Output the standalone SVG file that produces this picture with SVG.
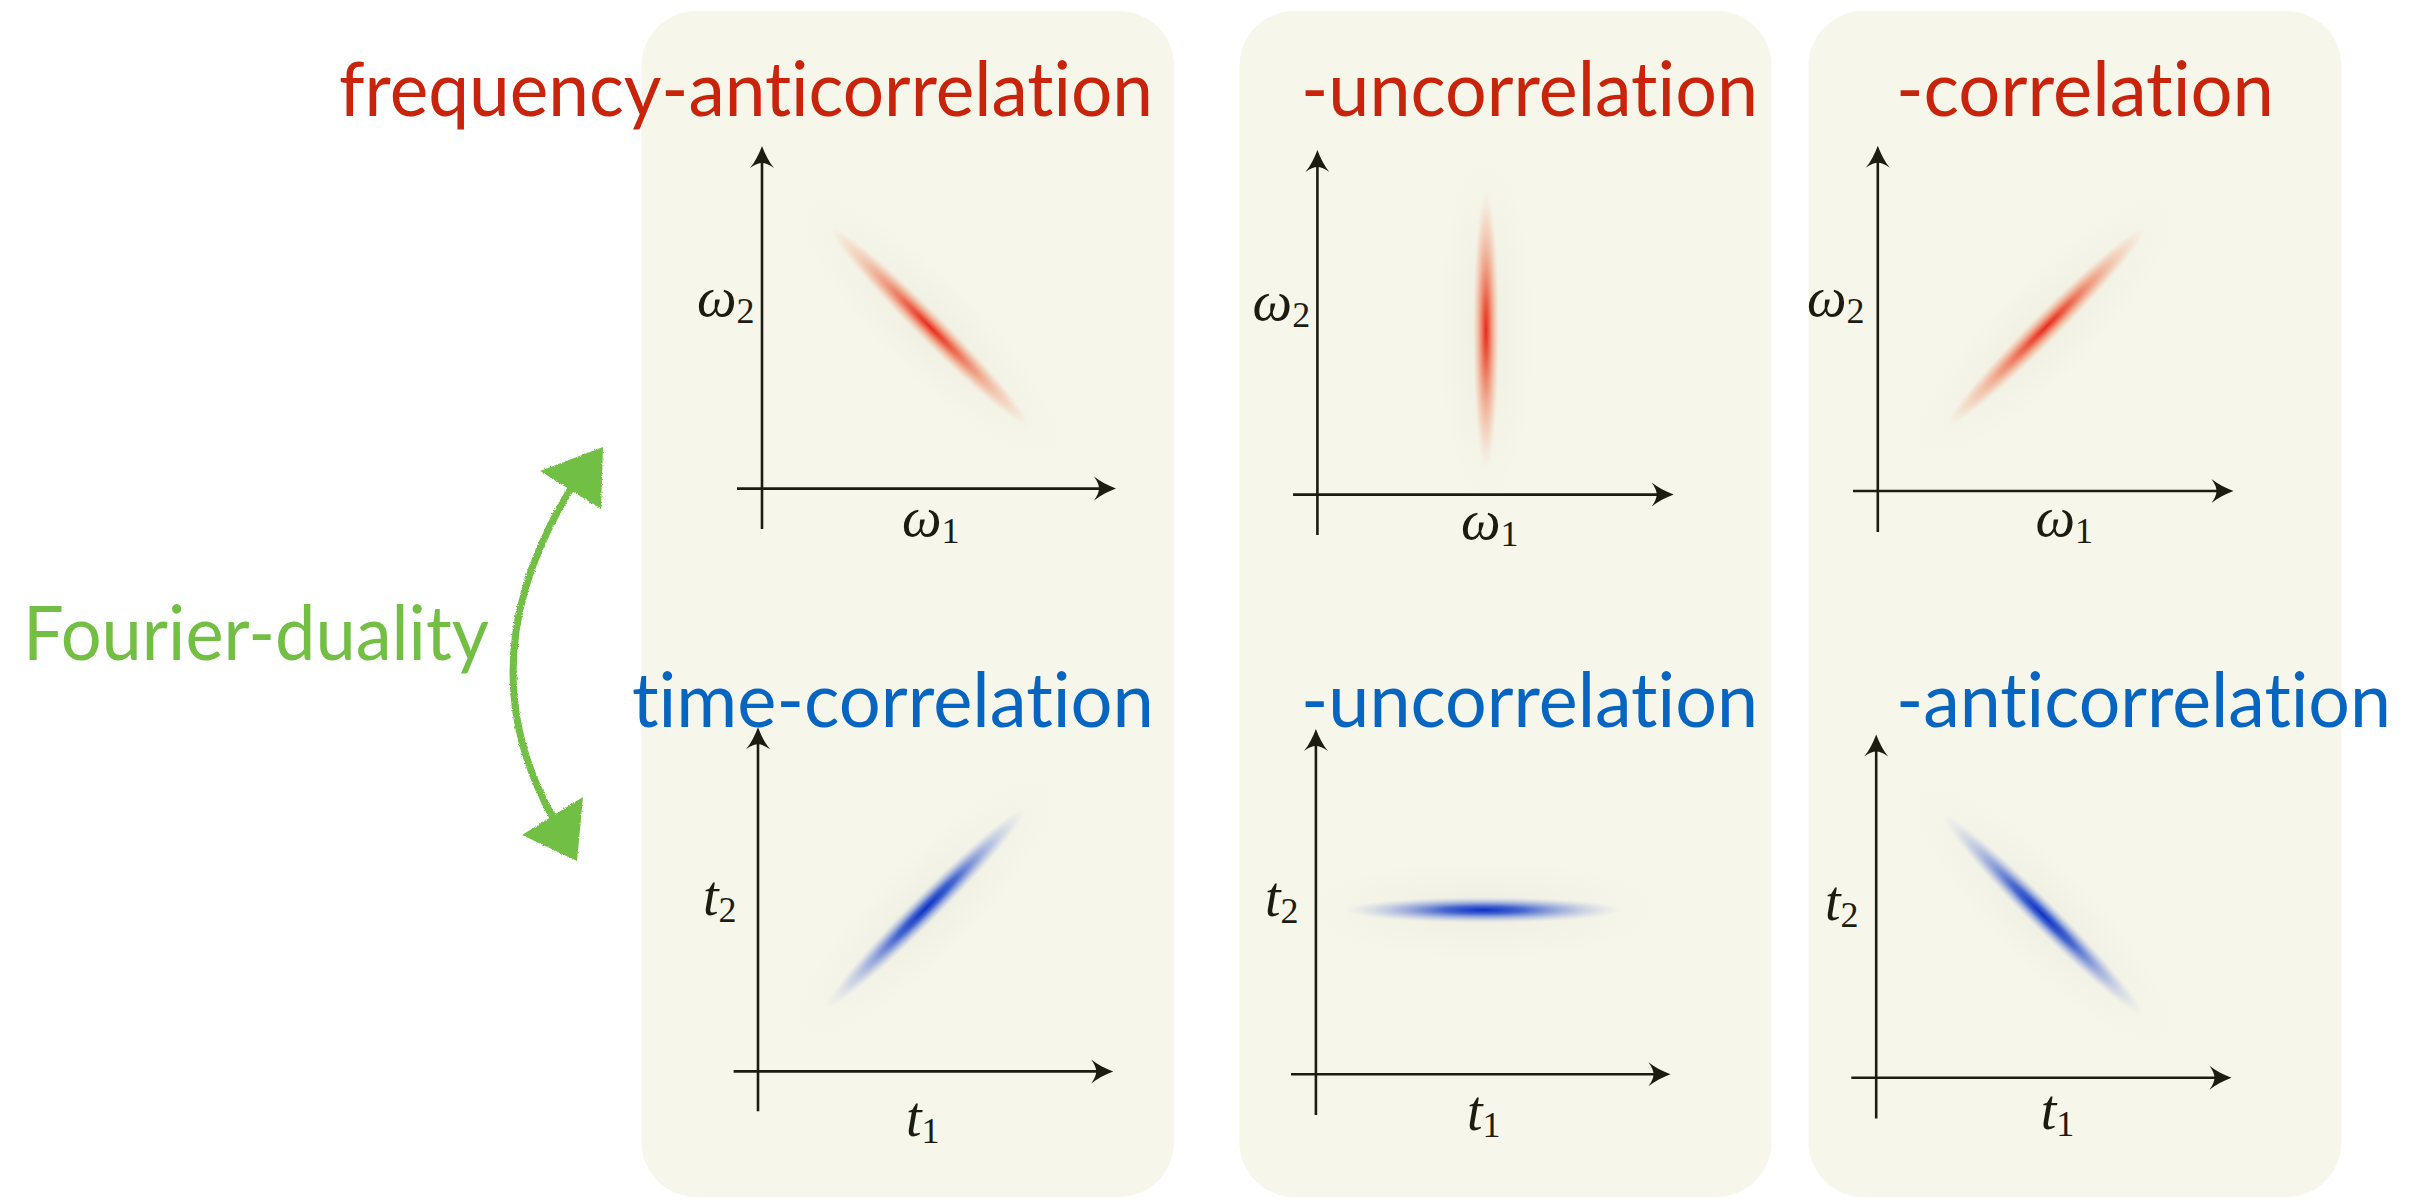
<svg xmlns="http://www.w3.org/2000/svg" width="2419" height="1199" viewBox="0 0 2419 1199">
<style>
  .panel { fill: #F6F6EA; }
  .title { font-family: Lato, "Open Sans", sans-serif; font-size: 75px; font-variant-ligatures: none; font-feature-settings: "liga" 0, "clig" 0; }
  .red { fill: #C8240B; }
  .blue { fill: #0565C0; }
  .green { fill: #72BF44; }
  .axis { stroke: #1C1C12; stroke-width: 2.6; fill: none; marker-end: url(#ah); }
  .math { font-family: "Liberation Serif", "DejaVu Serif", serif; font-style: italic; font-size: 56px; fill: #1C1C12; }
  .sub { font-family: "Liberation Serif", "DejaVu Serif", serif; font-style: normal; font-size: 36px; fill: #1C1C12; }
</style>
<defs>
  <marker id="ah" markerUnits="userSpaceOnUse" viewBox="-24 -14 26 28" refX="-10" refY="0" markerWidth="26" markerHeight="28" orient="auto" overflow="visible">
    <path d="M0,0 C-8,-3 -16,-7 -22,-12 Q-17,-5 -17,0 Q-17,5 -22,12 C-16,7 -8,3 0,0 Z" fill="#1C1C12"/>
  </marker>
  <radialGradient id="gr">
    <stop offset="0" stop-color="#E8281C" stop-opacity="1"/>
    <stop offset="0.25" stop-color="#EC5A40" stop-opacity="0.9"/>
    <stop offset="0.55" stop-color="#F09070" stop-opacity="0.65"/>
    <stop offset="0.8" stop-color="#F4B89C" stop-opacity="0.4"/>
    <stop offset="1" stop-color="#F6D0B8" stop-opacity="0"/>
  </radialGradient>
  <radialGradient id="gb">
    <stop offset="0" stop-color="#0A2FC8" stop-opacity="1"/>
    <stop offset="0.3" stop-color="#2A50CC" stop-opacity="0.85"/>
    <stop offset="0.6" stop-color="#7088D8" stop-opacity="0.55"/>
    <stop offset="1" stop-color="#B0C0E8" stop-opacity="0"/>
  </radialGradient>
  <radialGradient id="gh">
    <stop offset="0" stop-color="#E9E9DC" stop-opacity="0.6"/>
    <stop offset="1" stop-color="#E9E9DC" stop-opacity="0"/>
  </radialGradient>
  <filter id="chalk" x="-20%" y="-20%" width="140%" height="140%">
    <feTurbulence type="fractalNoise" baseFrequency="0.9" numOctaves="2" seed="3" result="n"/>
    <feDisplacementMap in="SourceGraphic" in2="n" scale="3" xChannelSelector="R" yChannelSelector="G"/>
  </filter>
</defs>

<rect width="2419" height="1199" fill="#FFFFFF"/>

<g id="panels">
  <rect id="panel-left" class="panel" x="641.5" y="11" width="532.5" height="1186" rx="55"/>
  <rect id="panel-middle" class="panel" x="1239.5" y="11" width="532" height="1186" rx="55"/>
  <rect id="panel-right" class="panel" x="1808.5" y="11" width="533" height="1186" rx="55"/>
</g>

<!-- frequency plots -->
<g id="plot-freq-anti">
  <ellipse cx="0" cy="0" rx="180" ry="50" fill="url(#gh)" transform="translate(930,327) rotate(45)"/>
  <ellipse cx="0" cy="0" rx="140" ry="14" fill="url(#gr)" transform="translate(930,327) rotate(45)"/>
  <path class="axis" d="M762,529 V156"/>
  <path class="axis" d="M737,488.6 H1106"/>
  <text class="math" x="697" y="316">ω<tspan class="sub" dy="7">2</tspan></text>
  <text class="math" x="902" y="536">ω<tspan class="sub" dy="7">1</tspan></text>
</g>
<g id="plot-freq-un">
  <ellipse cx="1486" cy="330" rx="48" ry="175" fill="url(#gh)"/>
  <ellipse cx="1486" cy="330" rx="13" ry="138" fill="url(#gr)"/>
  <path class="axis" d="M1317.4,535 V160"/>
  <path class="axis" d="M1293,494.6 H1663.7"/>
  <text class="math" x="1252.6" y="320">ω<tspan class="sub" dy="7">2</tspan></text>
  <text class="math" x="1461" y="539">ω<tspan class="sub" dy="7">1</tspan></text>
</g>
<g id="plot-freq-corr">
  <ellipse cx="0" cy="0" rx="180" ry="50" fill="url(#gh)" transform="translate(2046,327) rotate(-45)"/>
  <ellipse cx="0" cy="0" rx="140" ry="14" fill="url(#gr)" transform="translate(2046,327) rotate(-45)"/>
  <path class="axis" d="M1877.8,532 V155.7"/>
  <path class="axis" d="M1853,491 H2223.5"/>
  <text class="math" x="1807" y="316">ω<tspan class="sub" dy="7">2</tspan></text>
  <text class="math" x="2035.5" y="536">ω<tspan class="sub" dy="7">1</tspan></text>
</g>

<!-- time plots -->
<g id="plot-time-corr">
  <ellipse cx="0" cy="0" rx="180" ry="50" fill="url(#gh)" transform="translate(926,908) rotate(-45)"/>
  <ellipse cx="0" cy="0" rx="140" ry="14" fill="url(#gb)" transform="translate(926,908) rotate(-45)"/>
  <path class="axis" d="M758,1111.3 V737.3"/>
  <path class="axis" d="M733.6,1071.4 H1103.2"/>
  <text class="math" x="703" y="914.5">t<tspan class="sub" dy="7">2</tspan></text>
  <text class="math" x="906" y="1135.5">t<tspan class="sub" dy="7">1</tspan></text>
</g>
<g id="plot-time-un">
  <ellipse cx="1483" cy="910" rx="176" ry="50" fill="url(#gh)"/>
  <ellipse cx="1483" cy="910" rx="138" ry="13" fill="url(#gb)"/>
  <path class="axis" d="M1315.9,1115 V739"/>
  <path class="axis" d="M1291,1074.2 H1660.5"/>
  <text class="math" x="1265" y="916">t<tspan class="sub" dy="7">2</tspan></text>
  <text class="math" x="1467" y="1130">t<tspan class="sub" dy="7">1</tspan></text>
</g>
<g id="plot-time-anti">
  <ellipse cx="0" cy="0" rx="180" ry="50" fill="url(#gh)" transform="translate(2043,915) rotate(45)"/>
  <ellipse cx="0" cy="0" rx="140" ry="14" fill="url(#gb)" transform="translate(2043,915) rotate(45)"/>
  <path class="axis" d="M1876.2,1118.4 V744.5"/>
  <path class="axis" d="M1851.3,1077.8 H2221.5"/>
  <text class="math" x="1825" y="920">t<tspan class="sub" dy="7">2</tspan></text>
  <text class="math" x="2040.8" y="1128.5">t<tspan class="sub" dy="7">1</tspan></text>
</g>

<g id="titles">
  <text id="t-freq-anti" class="title red" x="339" y="116" textLength="814" lengthAdjust="spacingAndGlyphs">frequency-anticorrelation</text>
  <text id="t-freq-un" class="title red" x="1301" y="116" textLength="457" lengthAdjust="spacingAndGlyphs">-uncorrelation</text>
  <text id="t-freq-corr" class="title red" x="1896" y="116" textLength="378" lengthAdjust="spacingAndGlyphs">-correlation</text>
  <text id="t-time-corr" class="title blue" x="632" y="726.6" textLength="522" lengthAdjust="spacingAndGlyphs">time-correlation</text>
  <text id="t-time-un" class="title blue" x="1301" y="726.6" textLength="457" lengthAdjust="spacingAndGlyphs">-uncorrelation</text>
  <text id="t-time-anti" class="title blue" x="1896" y="726.6" textLength="495" lengthAdjust="spacingAndGlyphs">-anticorrelation</text>
</g>

<g id="fourier-duality">
  <text class="title green" x="23" y="659.6" textLength="466" lengthAdjust="spacingAndGlyphs">Fourier-duality</text>
</g>

<g id="connectors">
  <g filter="url(#chalk)">
    <path d="M570,490 Q466,660 552,816" fill="none" stroke="#72BF44" stroke-width="7" stroke-linecap="round"/>
    <polygon points="603,447 540,471 601,509" fill="#72BF44"/>
    <polygon points="583,797 522,835 577,861" fill="#72BF44"/>
  </g>
</g>
</svg>
